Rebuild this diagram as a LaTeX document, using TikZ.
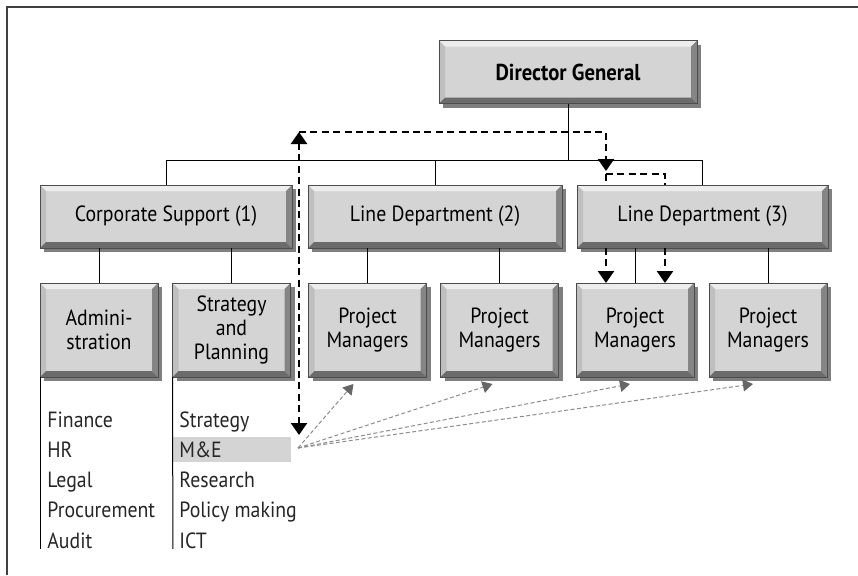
\documentclass[tikz,border=0pt]{standalone}
\usepackage{fontspec}
\setmainfont{PT Sans}[FakeStretch=0.9]
\usetikzlibrary{arrows.meta,shadows}

\begin{document}
\begin{tikzpicture}[x=0.5pt,y=-0.5pt,
  panel/.style={draw=black!70, fill=black!17, inner sep=0pt, outer sep=0pt,
    align=center, font=\fontsize{11}{12}\selectfont,
    drop shadow={shadow xshift=2pt, shadow yshift=-2pt, opacity=.5, fill=black},
    path picture={
      \path (path picture bounding box.south west) coordinate (bsw)
            (path picture bounding box.north east) coordinate (bne);
      \path (bsw) ++(3pt,3pt) coordinate (isw) (bne) ++(-3pt,-3pt) coordinate (ine);
      \fill[black!7]  (bsw |- bne) -- (bne) -- (ine) -- (isw |- ine) -- cycle;
      \fill[black!25] (bsw) -- (bsw |- bne) -- (isw |- ine) -- (isw) -- cycle;
      \fill[black!48] (bne) -- (bne |- bsw) -- (ine |- isw) -- (ine) -- cycle;
      \fill[black!58] (bsw) -- (bne |- bsw) -- (ine |- isw) -- (isw) -- cycle;
    }},
  unit/.style={panel, minimum width=59pt, minimum height=47pt},
  dept/.style={panel, minimum height=31.5pt},
  item/.style={anchor=base west, inner sep=0pt, font=\fontsize{11}{12}\selectfont, text=black!85},
  link/.style={draw=black, line width=0.5pt},
  flow/.style={draw=black, line width=1.2pt, dash pattern=on 3.5pt off 2.2pt},
  hint/.style={draw=black!45, line width=0.5pt, dash pattern=on 2pt off 1.2pt,
    -{Triangle[length=5pt,width=6pt,black!60]}},
  tip/.style={-{Triangle[length=6pt,width=8pt]}}
]
  \useasboundingbox (0,0) rectangle (858,575);
  \draw[line width=1pt, black!75] (7,575) -- (7,7) -- (858,7);

  % boxes
  \node (dg)  [dept, minimum width=129pt, font=\fontsize{11.5}{12}\bfseries] at (568,72) {Director General};
  \node (cs)  [dept, minimum width=126pt] at (166,216.5) {Corporate Support (1)};
  \node (ld2) [dept, minimum width=127pt] at (435,216.5) {Line Department (2)};
  \node (ld3) [dept, minimum width=125.5pt] at (702.5,216.5) {Line Department (3)};
  \node (adm) [unit] at (99,330)  {Admini-\\stration};
  \node (sp)  [unit] at (231.5,330) {Strategy\\and\\Planning};
  \node (pm1) [unit] at (367.5,330) {Project\\Managers};
  \node (pm2) [unit] at (499.5,330) {Project\\Managers};
  \node (pm3) [unit] at (635,330) {Project\\Managers};
  \node (pm4) [unit] at (768,330) {Project\\Managers};

  % lines
  \coordinate (bus) at (0,160);
  \draw[link] (dg.south) -- (dg.south |- bus);
  \draw[link] (cs.north |- bus) -- (ld3.north |- bus);
  \foreach \n in {cs,ld2,ld3}
    \draw[link] (\n.north) -- (\n.north |- bus);
  \foreach \a/\b in {cs/adm,cs/sp,ld2/pm1,ld2/pm2,ld3/pm3,ld3/pm4}
    \draw[link] (\b.north) -- (\b.north |- \a.south);

  % functions
  \begin{scope}
    \clip (0,0) rectangle (858,548);
    \fill[black!17] (172,437) rectangle (291,462);
    \draw[link] (adm.south west) -- (40,575);
    \draw[link] (sp.south west) -- (173,575);
    \foreach \t [count=\i from 0] in {Finance,HR,Legal,Procurement,Audit}
      \node (f\i) [item] at (47,427+30.3*\i) {\t};
    \foreach \t [count=\i from 0] in {Strategy,M\&E,Research,Policy making,ICT}
      \node (s\i) [item] at (179,427+30.3*\i) {\t};
  \end{scope}

  % reporting lines
  \coordinate (me) at (298,448);
  \coordinate (metop) at (299,435);
  \coordinate (up) at (299,132);
  \coordinate (dn) at (606,132);
  \coordinate (turn) at (606,174);
  \draw[flow, {Triangle[length=6pt,width=8pt]}-{Triangle[length=6pt,width=8pt]}] (metop) -- (up);
  \draw[flow, tip] (up) -- (dn) -- (606,171);
  \draw[flow] (turn) -- (665,174) -- (665,0 |- ld3.north);
  \draw[flow] (turn) -- (turn |- ld3.north);
  \foreach \x in {606,665}
    \draw[flow, tip] (\x,0 |- ld3.south) -- (\x,0 |- pm3.north);
  \foreach \n/\dx in {pm1/-7,pm2/-3.5,pm3/-2.5,pm4/-7.5}
    \draw[hint] (me) -- ([shift={(\dx pt,-3.5pt)}]\n.south);
\end{tikzpicture}
\end{document}
